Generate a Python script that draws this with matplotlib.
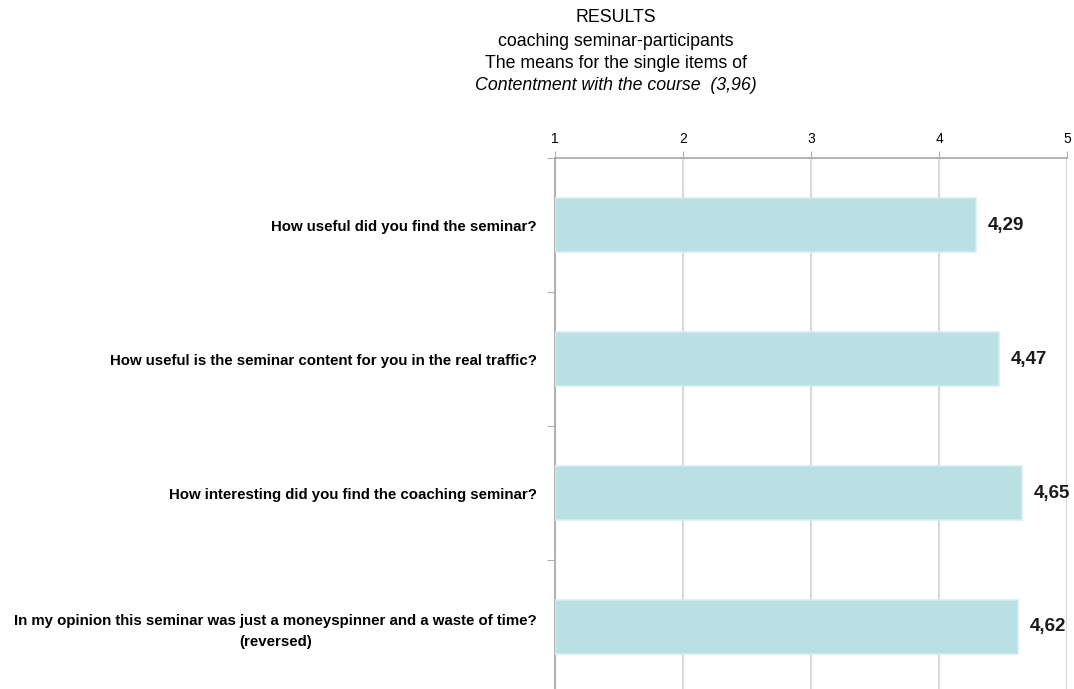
import matplotlib
matplotlib.use('Agg')
import matplotlib.pyplot as plt
import numpy as np

# data
items = [
    "How useful did you find the seminar?",
    "How useful is the seminar content for you in the real traffic?",
    "How interesting did you find the coaching seminar?",
    "In my opinion this seminar was just a moneyspinner and a waste of time?\n(reversed)",
]
means = [4.29, 4.47, 4.65, 4.62]
labels = ["4,29", "4,47", "4,65", "4,62"]
xticks = [1, 2, 3, 4, 5]

plt.rcParams['font.family'] = ['Liberation Sans', 'DejaVu Sans']

fig = plt.figure(figsize=(10.74, 6.89), dpi=100)
ax = fig.add_axes([555 / 1074, -5 / 689, 512 / 1074, 536 / 689])

ypos = np.arange(len(items))
ax.barh(ypos, np.array(means) - 1, left=1, height=0.4,
        color='#bae0e3', edgecolor='#d3eef0', linewidth=1.2, zorder=3)

for y, m, lab in zip(ypos, means, labels):
    ax.text(m + 0.09, y, lab, va='center', ha='left',
            fontsize=13.5, fontweight='bold', color='#1a1a1a')

ax.set_xlim(1, 5)
ax.set_ylim(len(items) - 0.5, -0.5)
ax.xaxis.tick_top()
ax.set_xticks(xticks)
ax.set_xticklabels([str(t) for t in xticks], fontsize=10)
ax.tick_params(axis='x', length=5, color='#b0b0b0', pad=4)
ax.grid(axis='x', color='#d9d9d9', linewidth=1.5, zorder=0)

# category labels, y ticks at category boundaries
ax.set_yticks(np.arange(len(items) + 1) - 0.5)
ax.set_yticklabels([])
ax.set_yticks(ypos, minor=True)
ax.set_yticklabels(items, minor=True, fontsize=10.8, fontweight='bold',
                   ha='right', multialignment='center', linespacing=1.55)
ax.tick_params(axis='y', which='major', length=6, color='#b0b0b0')
ax.tick_params(axis='y', which='minor', length=0, pad=13)

for s in ['right', 'bottom']:
    ax.spines[s].set_visible(False)
for s in ['top', 'left']:
    ax.spines[s].set_color('#a6a6a6')
    ax.spines[s].set_linewidth(1.2)

tx = 616 / 1074
fig.text(tx, 1 - 18 / 689, "RESULTS", ha='center', va='center', fontsize=12.8)
fig.text(tx, 1 - 42 / 689, "coaching seminar-participants", ha='center', va='center', fontsize=12.8)
fig.text(tx, 1 - 63 / 689, "The means for the single items of", ha='center', va='center', fontsize=12.8)
fig.text(tx, 1 - 86 / 689, "Contentment with the course  (3,96)", ha='center', va='center',
         fontsize=12.8, style='italic')

fig.savefig('out.png', dpi=100)
